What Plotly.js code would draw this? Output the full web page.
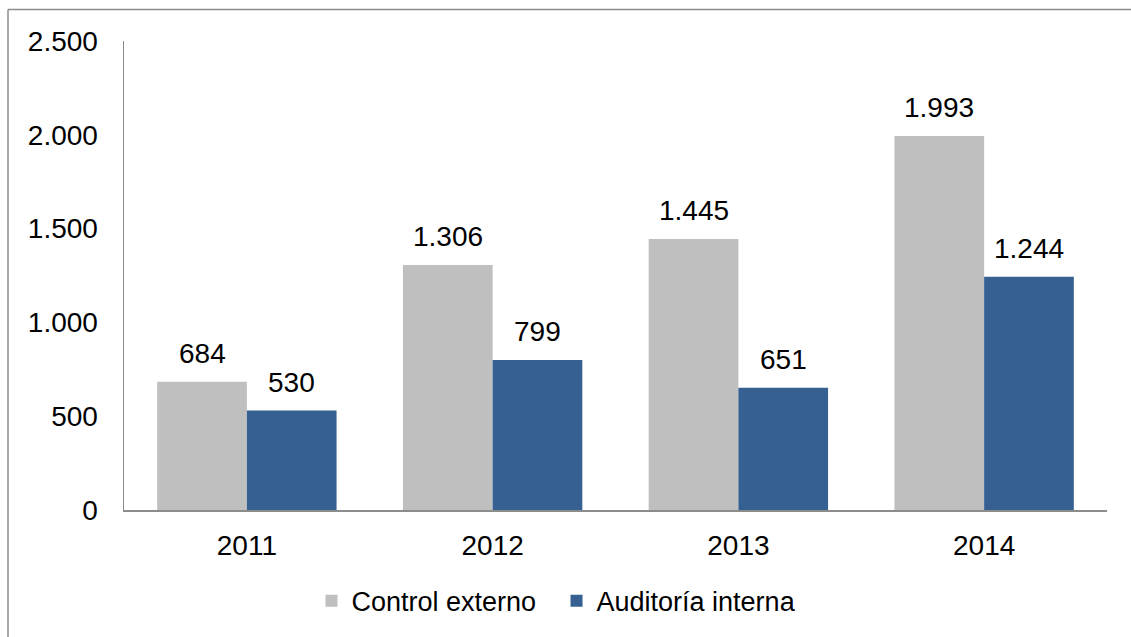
<!DOCTYPE html>
<html>
<head>
<meta charset="utf-8">
<script src="https://cdn.plot.ly/plotly-3.0.1.min.js"></script>
<style>html,body{margin:0;padding:0;background:#fff;}#chart{width:1131px;height:637px;}</style>
</head>
<body>
<div id="chart"></div>
<script>
const years = ['2011', '2012', '2013', '2014'];
const controlExterno = [684, 1306, 1445, 1993];
const auditoriaInterna = [530, 799, 651, 1244];
const seriesNames = ['Control externo', 'Auditoría interna'];
const yTickVals = [0, 500, 1000, 1500, 2000, 2500];

function fmt(v) {
  return String(Math.round(v)).replace(/\B(?=(\d{3})+(?!\d))/g, '.');
}

const FONT = 'Liberation Sans, Arial, sans-serif';
const colors = ['#BFBFBF', '#376092'];

const traces = [
  {type: 'bar', name: seriesNames[0], x: years, y: controlExterno, marker: {color: colors[0]}, hoverinfo: 'none'},
  {type: 'bar', name: seriesNames[1], x: years, y: auditoriaInterna, marker: {color: colors[1]}, hoverinfo: 'none'}
];

const barW = 89.7;
const annotations = [];
[controlExterno, auditoriaInterna].forEach((arr, si) => {
  arr.forEach((v, i) => {
    annotations.push({
      x: i, y: v, xref: 'x', yref: 'y',
      text: fmt(v), showarrow: false,
      xanchor: 'center', yanchor: 'bottom',
      xshift: (si === 0 ? -1 : 1) * barW / 2, yshift: 11,
      font: {family: FONT, size: 28, color: '#000'}
    });
  });
});

const lineCol = '#8C8C8C';
const layout = {
  width: 1131, height: 637,
  margin: {l: 124, r: 24, t: 41, b: 126, pad: 0},
  paper_bgcolor: '#fff', plot_bgcolor: '#fff',
  separators: ',.',
  barmode: 'group', bargap: 0.27, bargroupgap: 0,
  font: {family: FONT, size: 28, color: '#000'},
  showlegend: true,
  legend: {orientation: 'h', x: 0.44, xanchor: 'center', y: -0.14, yanchor: 'top',
           font: {family: FONT, size: 27, color: '#000'}, itemwidth: 30, tracegroupgap: 0,
           entrywidth: 200, entrywidthmode: 'pixels'},
  xaxis: {
    type: 'category', range: [-0.5, years.length - 0.5], autorange: false,
    showline: true, linecolor: lineCol, linewidth: 1.5,
    ticks: 'outside', ticklen: 10, tickcolor: 'rgba(0,0,0,0)',
    tickfont: {family: FONT, size: 28, color: '#000'}, showgrid: false, zeroline: false
  },
  yaxis: {
    range: [0, 2500], autorange: false, tickvals: yTickVals, tickformat: ',d',
    showline: true, linecolor: lineCol, linewidth: 1.5,
    ticks: 'outside', ticklen: 19, tickcolor: 'rgba(0,0,0,0)',
    tickfont: {family: FONT, size: 28, color: '#000'}, showgrid: false, zeroline: false
  },
  annotations: annotations,
  shapes: [
    {type: 'line', xref: 'paper', yref: 'paper', x0: -0.118, x1: -0.118, y0: 1.067, y1: -0.3,
     line: {color: '#8C8C8C', width: 1.5}},
    {type: 'line', xref: 'paper', yref: 'paper', x0: -0.118, x1: 1.05, y0: 1.067, y1: 1.067,
     line: {color: '#8C8C8C', width: 1.5}}
  ]
};

Plotly.newPlot('chart', traces, layout, {displayModeBar: false, staticPlot: true});
</script>
</body>
</html>
